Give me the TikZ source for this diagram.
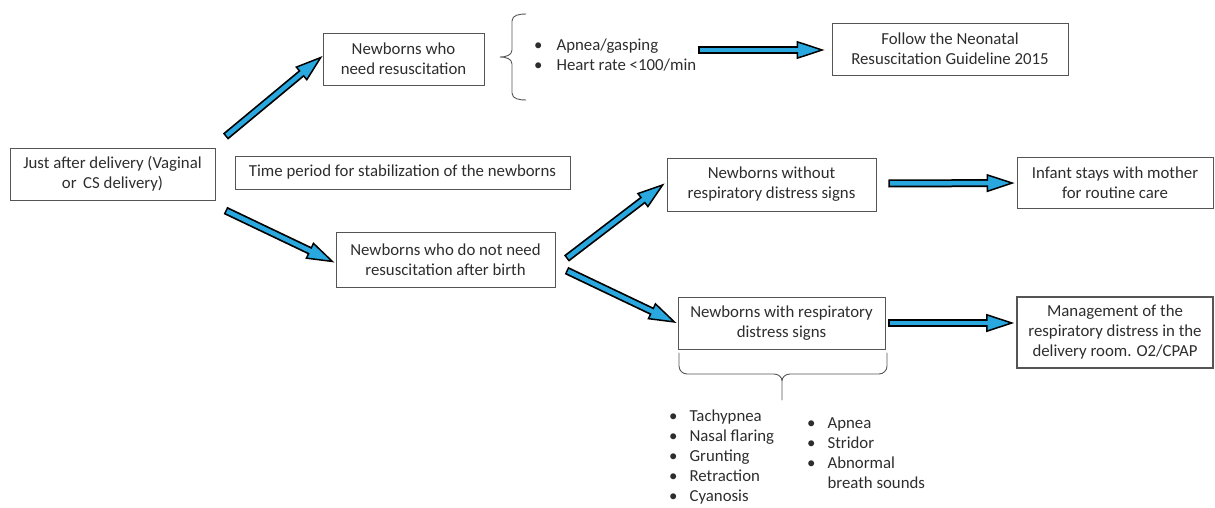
\documentclass[tikz,border=0pt]{standalone}
\usepackage{fontspec}
\setmainfont{Carlito}
\usetikzlibrary{arrows.meta,calc}
\definecolor{arrowblue}{RGB}{41,168,224}
\definecolor{boxgray}{RGB}{85,85,85}
\definecolor{txtgray}{RGB}{45,45,45}
\begin{document}
\begin{tikzpicture}[x=1pt,y=-1pt,
  font=\fontsize{16.8}{20}\selectfont, text=txtgray,
  box/.style={draw=boxgray, line width=0.9pt, align=center, inner sep=0pt},
  flow/.style={draw=black, line width=8pt,
    -{Triangle[length=28pt,width=18pt,line width=1.5pt,fill=arrowblue]},
    postaction={draw=arrowblue, line width=4.5pt, -, shorten >=25pt, shorten <=1.6pt}},
  brace/.style={draw=boxgray, line width=0.9pt, line cap=round}]%
\useasboundingbox (0,0) rectangle (1215,508);
%
% boxes
\node[box, minimum width=205, minimum height=52] (start) at (112.5,174) {Just after delivery (Vaginal\\or\, CS delivery)};
\node[box, minimum width=335, minimum height=33] (period) at (402.5,172.5) {Time period for stabilization of the newborns};
\node[box, minimum width=161, minimum height=52] (need) at (403.5,59) {Newborns who\\need resuscitation};
\node[box, minimum width=236, minimum height=52] (follow) at (950,49) {Follow the Neonatal\\Resuscitation Guideline 2015};
\node[box, minimum width=219, minimum height=55] (noneed) at (445.5,259.5) {Newborns who do not need\\resuscitation after birth};
\node[box, minimum width=209, minimum height=53] (without) at (771.5,184.5) {Newborns without\\respiratory distress signs};
\node[box, minimum width=207, minimum height=52] (with) at (781.5,323) {Newborns with respiratory\\distress signs};
\node[box, minimum width=196, minimum height=51] (infant) at (1115,182.5) {Infant stays with mother\\for routine care};
\node[box, line width=1.6pt, minimum width=196, minimum height=71] (manage) at (1115,332.5) {Management of the\\respiratory distress in the\\delivery room. O2/CPAP};
%
% bullet lists
\node[anchor=west, inner sep=0pt] (need list) at (534,57)
  {\begin{tabular}{@{}l@{\hspace{14pt}}l@{}}\textbullet & Apnea/gasping\\ \textbullet & Heart rate <100/min\end{tabular}};
\node[anchor=west, inner sep=0pt] (signs left) at (669,457.5)
  {\begin{tabular}{@{}l@{\hspace{12pt}}l@{}}\textbullet & Tachypnea\\ \textbullet & Nasal flaring\\ \textbullet & Grunting\\ \textbullet & Retraction\\ \textbullet & Cyanosis\end{tabular}};
\node[anchor=west, inner sep=0pt] (signs right) at (807,454.5)
  {\begin{tabular}{@{}l@{\hspace{12pt}}l@{}}\textbullet & Apnea\\ \textbullet & Stridor\\ \textbullet & Abnormal\\ & breath sounds\end{tabular}};
%
% braces
\draw[brace] (526,14) to[out=180,in=90] (512,21) -- (512,50) to[out=-90,in=0] (500,57)
  to[out=0,in=90] (512,64) -- (512,93) to[out=-90,in=180] (526,100);
\draw[brace] (679,353) -- (679,366) to[out=-90,in=180] (687,374) -- (774,374) to[out=0,in=90] (782,381) -- (782,400)
  (782,381) to[out=90,in=180] (790,374) -- (879,374) to[out=0,in=-90] (887,366) -- (887,353);
%
% arrows
\draw[flow] ([shift={(10,-11)}]start.north east) -- ([yshift=3]need.west);
\draw[flow] ([shift={(10,10)}]start.south east) -- ([shift={(-1,3)}]noneed.west);
\draw[flow] ([shift={(11,-1)}]noneed.east) -- ([shift={(-2,-1)}]without.west);
\draw[flow] ([shift={(11,11)}]noneed.east) -- ([xshift=-1]with.west);
\draw[flow] ($(need list.east |- follow.west)+(2,1)$) -- ([shift={(-7,1)}]follow.west);
\draw[flow] ([shift={(12,-1)}]without.east) -- ([shift={(-2,0.5)}]infant.west);
\draw[flow] ([xshift=3]with.east) -- ($(with.east -| manage.west)+(-2,0)$);
%
\end{tikzpicture}
\end{document}
